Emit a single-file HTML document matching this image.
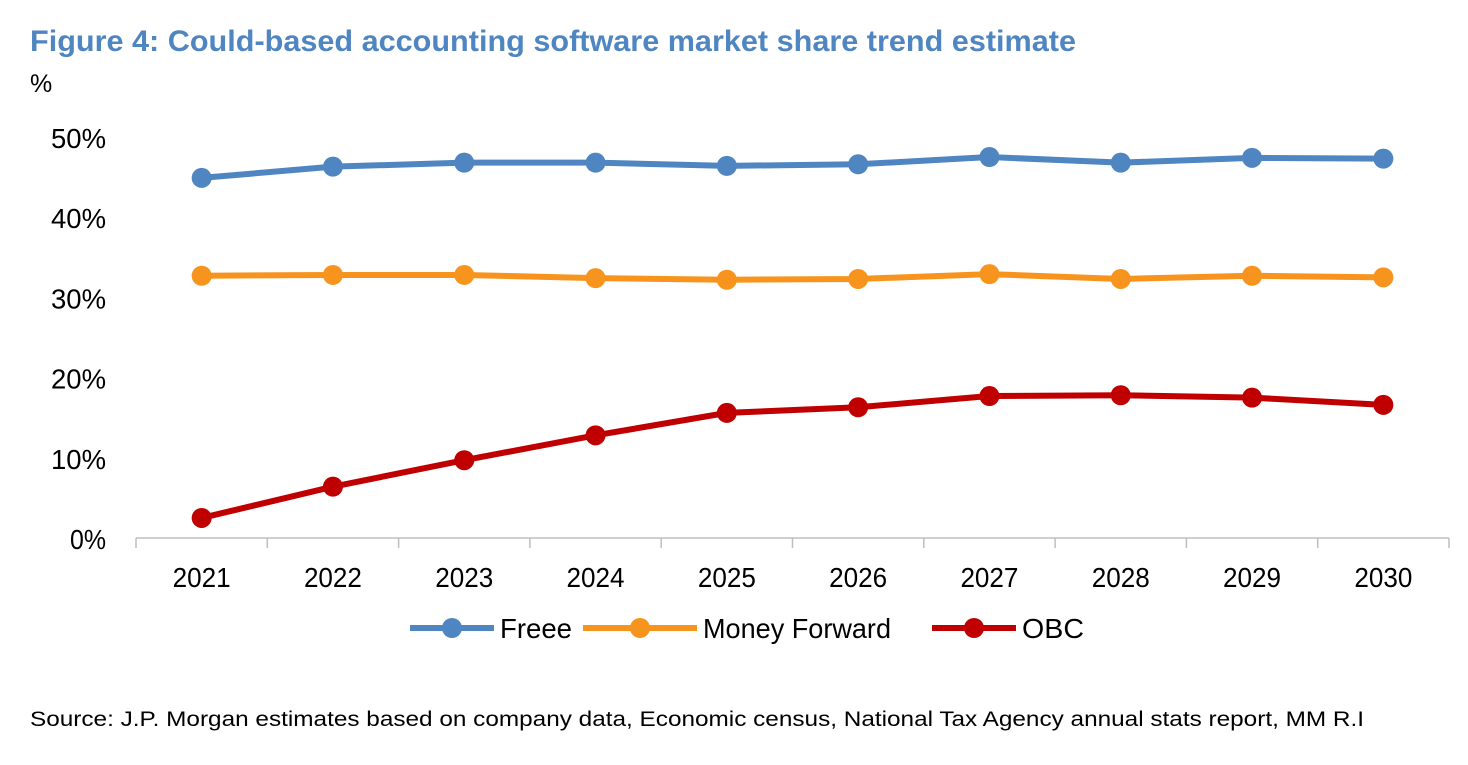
<!DOCTYPE html>
<html><head><meta charset="utf-8"><style>
body{margin:0;background:#fff;width:1468px;height:760px;overflow:hidden;font-family:"Liberation Sans",Arial,sans-serif}
</style></head><body>
<svg id="chart" width="1468" height="760">
<text x="30" y="51" font-size="30" font-weight="bold" fill="#4f86c1" textLength="1046" lengthAdjust="spacingAndGlyphs">Figure 4: Could-based accounting software market share trend estimate</text>
<text x="30" y="92" font-size="25" fill="#000">%</text>
<g id="axes"></g><g id="series"></g><g id="legend"></g>
<text x="30" y="726" font-size="21" fill="#000" textLength="1334" lengthAdjust="spacingAndGlyphs">Source: J.P. Morgan estimates based on company data, Economic census, National Tax Agency annual stats report, MM R.I</text>
</svg>
<script>
const categories=["2021","2022","2023","2024","2025","2026","2027","2028","2029","2030"];
const freee=[44.9,46.3,46.8,46.8,46.4,46.6,47.5,46.8,47.4,47.3];
const moneyForward=[32.7,32.8,32.8,32.4,32.2,32.3,32.9,32.3,32.7,32.5];
const obc=[2.5,6.4,9.7,12.8,15.6,16.3,17.7,17.8,17.5,16.6];
const yTicks=[0,10,20,30,40,50];
const seriesNames=["Freee","Money Forward","OBC"];
const NS="http://www.w3.org/2000/svg";
const x0=136,x1=1449,y0=538,yTop=137;
const step=(x1-x0)/categories.length;
const xs=i=>x0+step*(i+0.5);
const ys=v=>y0-(v/50)*(y0-yTop);
function mk(tag,attrs,parent){const e=document.createElementNS(NS,tag);for(const k in attrs)e.setAttribute(k,attrs[k]);parent.appendChild(e);return e;}
const axes=document.getElementById('axes');
const xl=mk('line',{x1:x0,x2:x1,y1:y0,y2:y0,stroke:'#bfbfbf','stroke-width':1.5},axes);


for(let i=0;i<=categories.length;i++){
 const t=mk('line',{x1:x0+step*i,x2:x0+step*i,y1:y0,y2:y0+10,stroke:'#bfbfbf','stroke-width':1.5},axes);
 
 
}
categories.forEach((c,i)=>{
 const t=mk('text',{x:xs(i),y:y0+49,'font-size':28,'text-anchor':'middle',textLength:58,lengthAdjust:'spacingAndGlyphs'},axes);
 t.textContent=c;
 
 
});
yTicks.forEach(v=>{
 const t=mk('text',{x:106,y:ys(v)+11,'font-size':28,'text-anchor':'end',textLength:v===0?36:55,lengthAdjust:'spacingAndGlyphs'},axes);
 t.textContent=v+'%';
 
 
});
const colors=['#4f86c1','#f7941d','#c00000'];
const data=[freee,moneyForward,obc];
const sg=document.getElementById('series');
data.forEach((arr,si)=>{
 const g=mk('g',{},sg);
 
 
 const p=mk('polyline',{points:arr.map((v,i)=>xs(i)+','+ys(v)).join(' '),fill:'none',stroke:colors[si],'stroke-width':6,'stroke-linejoin':'round'},g);
 
 
 arr.forEach((v,i)=>{
  const c=mk('circle',{cx:xs(i),cy:ys(v),r:10,fill:colors[i===undefined?0:si]},g);
  
  
 });
});
const lg=document.getElementById('legend');
const lx=[410,583,932],lw=[84,114,84],tl=[72,188,62];
seriesNames.forEach((n,i)=>{
 const g=mk('g',{},lg);
 
 
 mk('line',{x1:lx[i],x2:lx[i]+lw[i],y1:628,y2:628,stroke:colors[i],'stroke-width':6},g);
 mk('circle',{cx:lx[i]+lw[i]/2,cy:628,r:10,fill:colors[i]},g);
 const t=mk('text',{x:lx[i]+lw[i]+6,y:638,'font-size':28,textLength:tl[i],lengthAdjust:'spacingAndGlyphs'},g);
 t.textContent=n;
});
</script>
</body></html>
